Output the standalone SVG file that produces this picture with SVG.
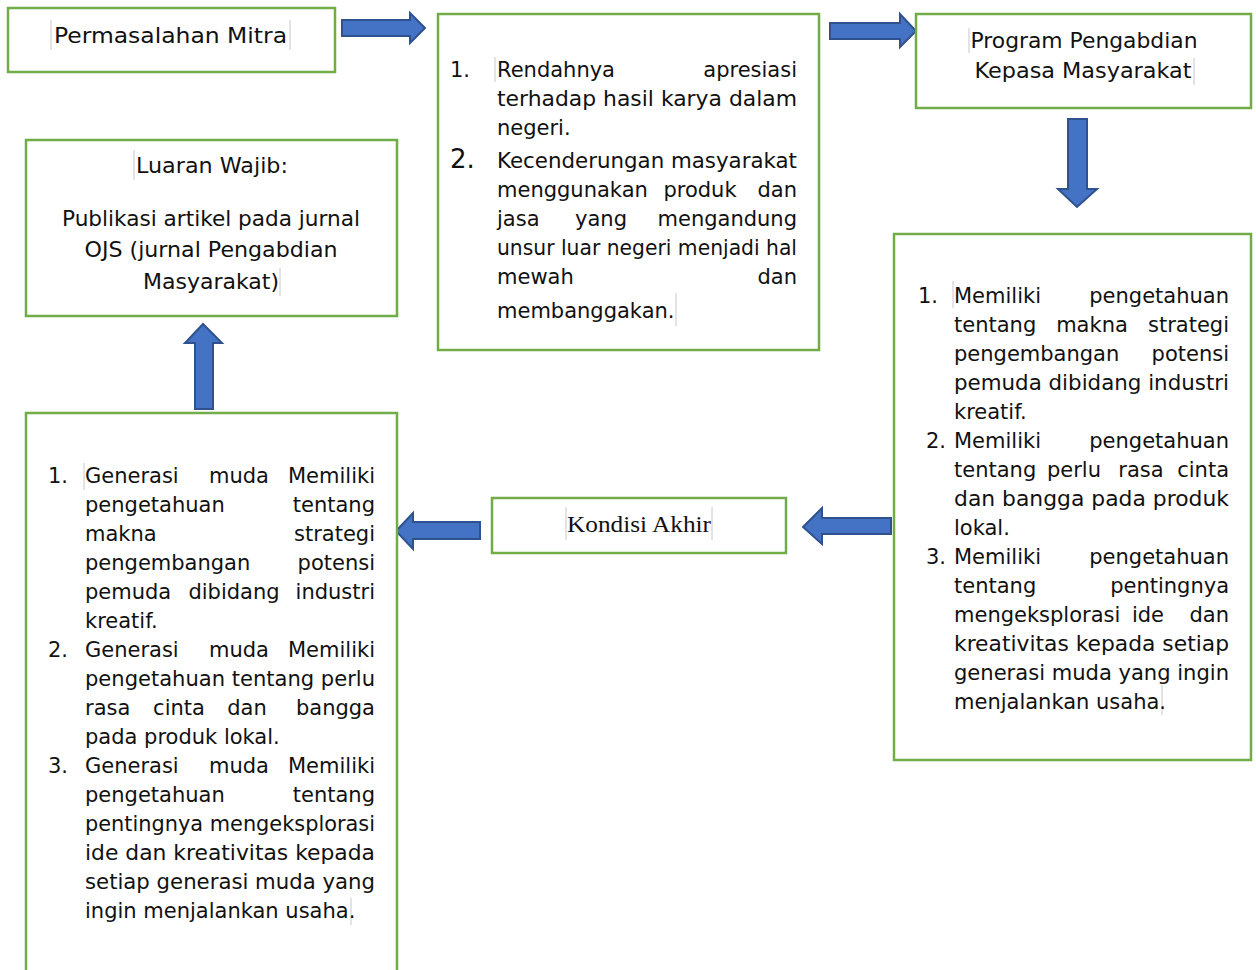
<svg xmlns="http://www.w3.org/2000/svg" width="1256" height="970" viewBox="0 0 1256 970">
<style>
.box{fill:#fff;stroke:#70AD47;stroke-width:2.5}
.arr{fill:#4472C4;stroke:#2F528F;stroke-width:2;stroke-linejoin:miter}
.t{font-family:"DejaVu Sans","Noto Sans",sans-serif;font-size:21px;fill:#111}
.n{font-family:"DejaVu Sans","Noto Sans",sans-serif;font-size:21px;fill:#111}
.big{font-size:26px}
.s{font-family:"Liberation Serif","Times New Roman",serif;font-size:23px;fill:#111}
.m{text-anchor:middle}
.e{text-anchor:end}
.cur{stroke:#c8c8c8;stroke-width:1}
</style>
<rect width="1256" height="970" fill="#fff"/>

<g id="connectors">
  <polygon class="arr" points="342,20 410,20 410,13 425,28 410,43 410,36 342,36"/>
  <polygon class="arr" points="830,23 900,23 900,14 916,31 900,47 900,39 830,39"/>
  <polygon class="arr" points="1068,119 1087,119 1087,189 1097,189 1077,207 1058,189 1068,189"/>
  <polygon class="arr" points="195,409 213,409 213,343 222,343 203,324 185,343 195,343"/>
  <polygon class="arr" points="480,522 413,522 413,513 396,531 413,549 413,539 480,539"/>
  <polygon class="arr" points="891,518 822,518 822,508 803,527 822,544 822,534 891,534"/>
</g>

<g id="node-permasalahan">
  <rect class="box" x="8" y="8" width="327" height="64"/>
  <line class="cur" x1="51" y1="20" x2="51" y2="50"/>
  <line class="cur" x1="290" y1="20" x2="290" y2="50"/>
  <text class="t" x="54" y="43" textLength="233" lengthAdjust="spacingAndGlyphs">Permasalahan Mitra</text>
</g>

<g id="node-masalah-list">
  <rect class="box" x="438" y="14" width="381" height="336"/>
  <line class="cur" x1="495" y1="57" x2="495" y2="82"/>
  <line class="cur" x1="676" y1="293" x2="676" y2="326"/>
  <text class="n" x="450" y="77">1.</text>
  <text class="t" x="497" y="77">Rendahnya</text>
  <text class="t e" x="797" y="77">apresiasi</text>
  <text class="t" x="497" y="106" textLength="300" lengthAdjust="spacingAndGlyphs">terhadap hasil karya dalam</text>
  <text class="t" x="497" y="135">negeri.</text>
  <text class="n big" x="450" y="168">2.</text>
  <text class="t" x="497" y="168" textLength="300" lengthAdjust="spacingAndGlyphs">Kecenderungan masyarakat</text>
  <text class="t" x="497" y="197">menggunakan</text>
  <text class="t m" x="700" y="197">produk</text>
  <text class="t e" x="797" y="197">dan</text>
  <text class="t" x="497" y="226">jasa</text>
  <text class="t m" x="601" y="226">yang</text>
  <text class="t e" x="797" y="226">mengandung</text>
  <text class="t" x="497" y="255" textLength="300" lengthAdjust="spacingAndGlyphs">unsur luar negeri menjadi hal</text>
  <text class="t" x="497" y="284">mewah</text>
  <text class="t e" x="797" y="284">dan</text>
  <text class="t" x="497" y="318">membanggakan.</text>
</g>

<g id="node-program">
  <rect class="box" x="916" y="14" width="335" height="94"/>
  <line class="cur" x1="969" y1="28" x2="969" y2="53"/>
  <line class="cur" x1="1194" y1="58" x2="1194" y2="85"/>
  <text class="t m" x="1084" y="48" textLength="227" lengthAdjust="spacingAndGlyphs">Program Pengabdian</text>
  <text class="t m" x="1083" y="78" textLength="217" lengthAdjust="spacingAndGlyphs">Kepasa Masyarakat</text>
</g>

<g id="node-program-list">
  <rect class="box" x="894" y="234" width="357" height="526"/>
  <line class="cur" x1="953" y1="281" x2="953" y2="308"/>
  <line class="cur" x1="1162" y1="685" x2="1162" y2="715"/>
  <text class="n" x="918" y="303">1.</text>
  <text class="t" x="954" y="303">Memiliki</text>
  <text class="t e" x="1229" y="303">pengetahuan</text>
  <text class="t" x="954" y="332">tentang</text>
  <text class="t m" x="1092" y="332">makna</text>
  <text class="t e" x="1229" y="332">strategi</text>
  <text class="t" x="954" y="361">pengembangan</text>
  <text class="t e" x="1229" y="361">potensi</text>
  <text class="t" x="954" y="390" textLength="275" lengthAdjust="spacingAndGlyphs">pemuda dibidang industri</text>
  <text class="t" x="954" y="419">kreatif.</text>
  <text class="n" x="926" y="448">2.</text>
  <text class="t" x="954" y="448">Memiliki</text>
  <text class="t e" x="1229" y="448">pengetahuan</text>
  <text class="t" x="954" y="477">tentang</text>
  <text class="t m" x="1074" y="477">perlu</text>
  <text class="t m" x="1141" y="477">rasa</text>
  <text class="t e" x="1229" y="477">cinta</text>
  <text class="t" x="954" y="506" textLength="275" lengthAdjust="spacingAndGlyphs">dan bangga pada produk</text>
  <text class="t" x="954" y="535">lokal.</text>
  <text class="n" x="926" y="564">3.</text>
  <text class="t" x="954" y="564">Memiliki</text>
  <text class="t e" x="1229" y="564">pengetahuan</text>
  <text class="t" x="954" y="593">tentang</text>
  <text class="t e" x="1229" y="593">pentingnya</text>
  <text class="t" x="954" y="622">mengeksplorasi</text>
  <text class="t m" x="1148" y="622">ide</text>
  <text class="t e" x="1229" y="622">dan</text>
  <text class="t" x="954" y="651" textLength="275" lengthAdjust="spacingAndGlyphs">kreativitas kepada setiap</text>
  <text class="t" x="954" y="680" textLength="275" lengthAdjust="spacingAndGlyphs">generasi muda yang ingin</text>
  <text class="t" x="954" y="709">menjalankan usaha.</text>
</g>

<g id="node-kondisi-akhir">
  <rect class="box" x="492" y="498" width="294" height="55"/>
  <line class="cur" x1="566" y1="507" x2="566" y2="540"/>
  <line class="cur" x1="712" y1="507" x2="712" y2="540"/>
  <text class="s" x="567" y="532" textLength="144" lengthAdjust="spacingAndGlyphs">Kondisi Akhir</text>
</g>

<g id="node-luaran">
  <rect class="box" x="26" y="140" width="371" height="176"/>
  <line class="cur" x1="134" y1="150" x2="134" y2="180"/>
  <line class="cur" x1="280" y1="268" x2="280" y2="296"/>
  <text class="t m" x="212" y="173" textLength="152" lengthAdjust="spacingAndGlyphs">Luaran Wajib:</text>
  <text class="t m" x="211" y="226" textLength="298" lengthAdjust="spacingAndGlyphs">Publikasi artikel pada jurnal</text>
  <text class="t m" x="211" y="257" textLength="253" lengthAdjust="spacingAndGlyphs">OJS (jurnal Pengabdian</text>
  <text class="t m" x="211" y="289" textLength="136" lengthAdjust="spacingAndGlyphs">Masyarakat)</text>
</g>

<g id="node-generasi-list">
  <rect class="box" x="26" y="413" width="371" height="580"/>
  <line class="cur" x1="84" y1="463" x2="84" y2="490"/>
  <line class="cur" x1="351" y1="898" x2="351" y2="925"/>
  <text class="n" x="48" y="483">1.</text>
  <text class="t" x="85" y="483">Generasi</text>
  <text class="t m" x="239" y="483">muda</text>
  <text class="t e" x="375" y="483">Memiliki</text>
  <text class="t" x="85" y="512">pengetahuan</text>
  <text class="t e" x="375" y="512">tentang</text>
  <text class="t" x="85" y="541">makna</text>
  <text class="t e" x="375" y="541">strategi</text>
  <text class="t" x="85" y="570">pengembangan</text>
  <text class="t e" x="375" y="570">potensi</text>
  <text class="t" x="85" y="599">pemuda</text>
  <text class="t m" x="234" y="599">dibidang</text>
  <text class="t e" x="375" y="599">industri</text>
  <text class="t" x="85" y="628">kreatif.</text>
  <text class="n" x="48" y="657">2.</text>
  <text class="t" x="85" y="657">Generasi</text>
  <text class="t m" x="239" y="657">muda</text>
  <text class="t e" x="375" y="657">Memiliki</text>
  <text class="t" x="85" y="686" textLength="290" lengthAdjust="spacingAndGlyphs">pengetahuan tentang perlu</text>
  <text class="t" x="85" y="715">rasa</text>
  <text class="t m" x="179" y="715">cinta</text>
  <text class="t m" x="247" y="715">dan</text>
  <text class="t e" x="375" y="715">bangga</text>
  <text class="t" x="85" y="744">pada produk lokal.</text>
  <text class="n" x="48" y="773">3.</text>
  <text class="t" x="85" y="773">Generasi</text>
  <text class="t m" x="239" y="773">muda</text>
  <text class="t e" x="375" y="773">Memiliki</text>
  <text class="t" x="85" y="802">pengetahuan</text>
  <text class="t e" x="375" y="802">tentang</text>
  <text class="t" x="85" y="831" textLength="290" lengthAdjust="spacingAndGlyphs">pentingnya mengeksplorasi</text>
  <text class="t" x="85" y="860" textLength="290" lengthAdjust="spacingAndGlyphs">ide dan kreativitas kepada</text>
  <text class="t" x="85" y="889" textLength="290" lengthAdjust="spacingAndGlyphs">setiap generasi muda yang</text>
  <text class="t" x="85" y="918">ingin menjalankan usaha.</text>
</g>
</svg>
